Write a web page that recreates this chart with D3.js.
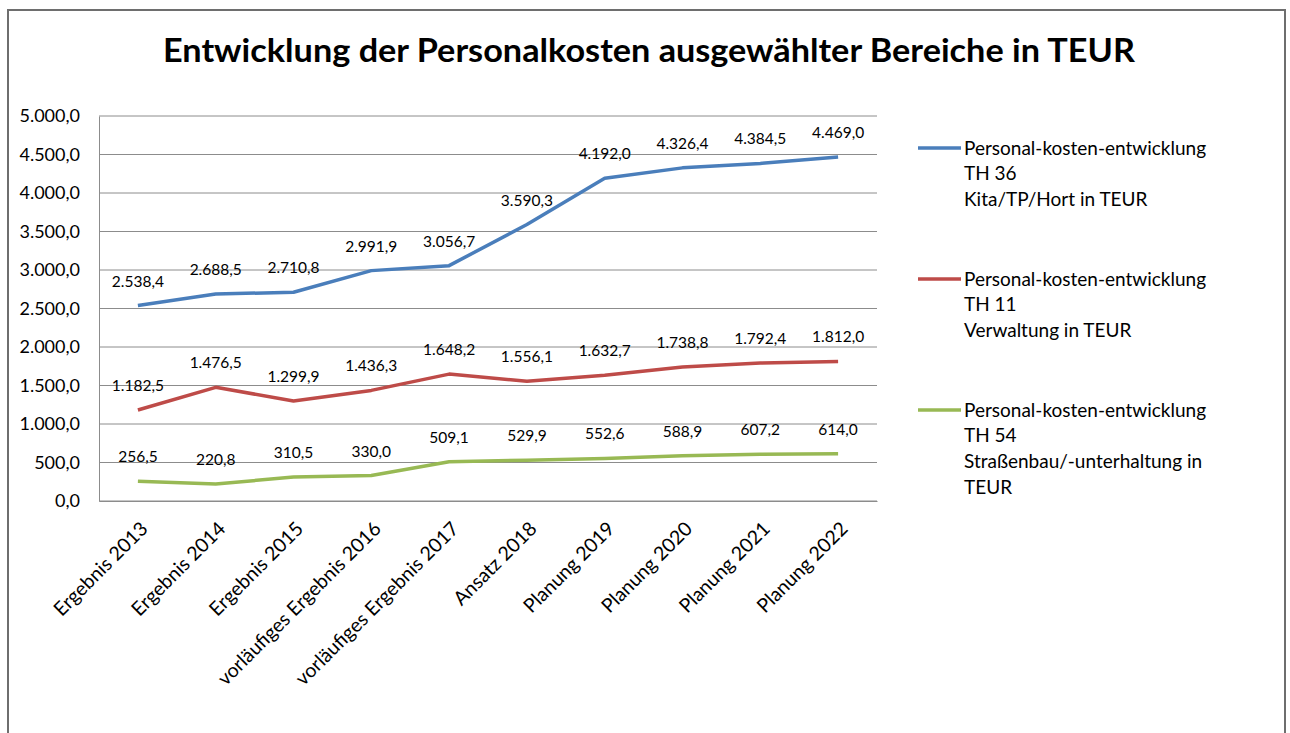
<!DOCTYPE html>
<html>
<head>
<meta charset="utf-8">
<script src="https://cdn.jsdelivr.net/npm/d3@7"></script>
<style>
  body { margin: 0; background: #fff; }
  text { font-family: Lato, "Open Sans", sans-serif; fill: #000; }
</style>
</head>
<body>
<script>
// categories and series
const categories = ["Ergebnis 2013", "Ergebnis 2014", "Ergebnis 2015", "vorläufiges Ergebnis 2016",
  "vorläufiges Ergebnis 2017", "Ansatz 2018", "Planung 2019", "Planung 2020", "Planung 2021", "Planung 2022"];
const kita = [2538.4, 2688.5, 2710.8, 2991.9, 3056.7, 3590.3, 4192.0, 4326.4, 4384.5, 4469.0];
const verwaltung = [1182.5, 1476.5, 1299.9, 1436.3, 1648.2, 1556.1, 1632.7, 1738.8, 1792.4, 1812.0];
const strassen = [256.5, 220.8, 310.5, 330.0, 509.1, 529.9, 552.6, 588.9, 607.2, 614.0];
const yTicks = [0, 500, 1000, 1500, 2000, 2500, 3000, 3500, 4000, 4500, 5000];
const legendLabels = [
  ["Personal-kosten-entwicklung", "TH 36", "Kita/TP/Hort in TEUR"],
  ["Personal-kosten-entwicklung", "TH 11", "Verwaltung in TEUR"],
  ["Personal-kosten-entwicklung", "TH 54", "Straßenbau/-unterhaltung in", "TEUR"]
];
const title = "Entwicklung der Personalkosten ausgewählter Bereiche in TEUR";

const w = 1290, h = 733;
const plot = { left: 99, right: 877, top: 116, bottom: 501 };
const colours = ["#4A7EBB", "#BE4B48", "#98B954"];
const series = [kita, verwaltung, strassen];

// German number format: 1.234,5
const de = d3.formatLocale({ decimal: ",", thousands: ".", grouping: [3], currency: ["", " €"] });
const fmt = de.format(",.1f");

let svg = d3.select("body").append("svg")
  .attr("width", w)
  .attr("height", h);

// outer frame of the chart
svg.append("rect")
  .attr("x", 8).attr("y", 10)
  .attr("width", 1277).attr("height", 760)
  .attr("fill", "#fff")
  .attr("stroke", "#6e6e6e")
  .attr("stroke-width", 2);

// title
svg.append("text")
  .attr("x", 649).attr("y", 62)
  .attr("text-anchor", "middle")
  .style("font-size", "33px")
  .style("font-weight", "bold")
  .attr("textLength", 972)
  .attr("lengthAdjust", "spacingAndGlyphs")
  .text(title);

let xScale = d3.scaleBand()
  .domain(categories)
  .range([plot.left, plot.right]);
let yScale = d3.scaleLinear()
  .domain([0, 5000])
  .range([plot.bottom, plot.top]);
const xPos = d => xScale(d) + xScale.bandwidth() / 2;

// gridlines
svg.append("g")
  .selectAll("line")
  .data(yTicks)
  .enter()
  .append("line")
  .attr("x1", plot.left).attr("x2", plot.right)
  .attr("y1", d => yScale(d)).attr("y2", d => yScale(d))
  .attr("stroke", "#8c8c8c")
  .attr("stroke-width", 1);

// y axis
let yAxis = d3.axisLeft(yScale).tickValues(yTicks).tickFormat(fmt).tickSize(0).tickPadding(19);
let gy = svg.append("g")
  .attr("transform", "translate(" + plot.left + ",0)")
  .call(yAxis);
gy.select(".domain").attr("stroke", "#8c8c8c");
gy.selectAll("text")
  .style("font-size", "18px")
  .style("font-family", "Lato, sans-serif")
  .attr("fill", "#000");

// x axis, labels turned 45 degrees
let xAxis = d3.axisBottom(xScale).tickSize(0).tickPadding(0);
let gx = svg.append("g")
  .attr("transform", "translate(0," + plot.bottom + ")")
  .call(xAxis);
gx.select(".domain").attr("stroke", "#8c8c8c");
gx.selectAll("text")
  .style("font-size", "19.5px")
  .style("font-family", "Lato, sans-serif")
  .attr("fill", "#000")
  .attr("text-anchor", "end")
  .attr("x", 0).attr("y", 0).attr("dy", 0)
  .attr("transform", "translate(11,29) rotate(-45)");

// lines and data labels
let line = d3.line()
  .x((d, i) => xPos(categories[i]))
  .y(d => yScale(d));

series.forEach(function(values, s) {
  svg.append("path")
    .datum(values)
    .attr("fill", "none")
    .attr("stroke", colours[s])
    .attr("stroke-width", 3.5)
    .attr("stroke-linejoin", "round")
    .attr("d", line);

  svg.append("g")
    .selectAll("text")
    .data(values)
    .enter()
    .append("text")
    .attr("x", (d, i) => xPos(categories[i]))
    .attr("y", d => yScale(d) - 19)
    .attr("text-anchor", "middle")
    .style("font-size", "15.5px")
    .text(d => fmt(d));
});

// legend
let legend = svg.append("g").attr("class", "legend");
legendLabels.forEach(function(lines, s) {
  const y0 = 148 + s * 131;
  legend.append("line")
    .attr("x1", 918).attr("x2", 961)
    .attr("y1", y0).attr("y2", y0)
    .attr("stroke", colours[s])
    .attr("stroke-width", 3.5);
  lines.forEach(function(t, j) {
    legend.append("text")
      .attr("x", 964)
      .attr("y", y0 + j * 25.7)
      .attr("dy", "0.35em")
      .style("font-size", "19px")
      .text(t);
  });
});
</script>
</body>
</html>
